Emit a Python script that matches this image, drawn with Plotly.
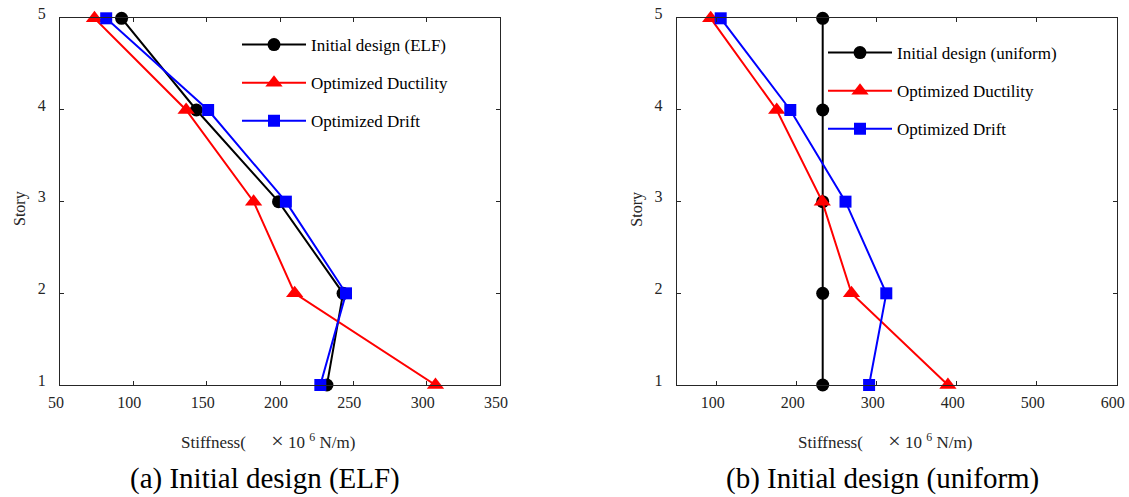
import plotly.graph_objects as go

# ---------------- data ----------------
stories = [1, 2, 3, 4, 5]

# (a) Initial design (ELF)
elf_initial = [232, 243, 199, 143, 92]
elf_ductility = [306, 210, 182, 136, 73.5]
elf_drift = [227.5, 245, 204, 151, 81.5]

# (b) Initial design (uniform)
uni_initial = [232.5, 232.5, 232.5, 232.5, 232.5]
uni_ductility = [389, 268.5, 232, 175, 92.5]
uni_drift = [290.5, 312, 261, 192, 105]

names_a = ["Initial design (ELF)", "Optimized Ductility", "Optimized Drift"]
names_b = ["Initial design (uniform)", "Optimized Ductility", "Optimized Drift"]
ticks_a = [50, 100, 150, 200, 250, 300, 350]
ticks_b = [100, 200, 300, 400, 500, 600]
story_ticks = [1, 2, 3, 4, 5]
captions = ["(a) Initial design (ELF)", "(b) Initial design (uniform)"]

# ---------------- style ----------------
W, H = 1129, 497
FONT = "Liberation Serif"
colors = ["#000000", "#ff0000", "#0000ff"]
symbols = ["circle", "triangle-up", "square"]
msizes = [13, 15, 12]

fig = go.Figure()

def add_series(xvals, name, i, xa, ya, leg, grp):
    fig.add_trace(go.Scatter(
        x=xvals, y=stories, name=name, mode="lines+markers",
        xaxis=xa, yaxis=ya, legend=leg, legendgroup=grp,
        line=dict(color=colors[i], width=2),
        marker=dict(color=colors[i], symbol=symbols[i], size=msizes[i]),
        cliponaxis=False,
    ))

for i, s in enumerate([elf_initial, elf_ductility, elf_drift]):
    add_series(s, names_a[i], i, "x", "y", "legend", f"a{i}")
for i, s in enumerate([uni_initial, uni_ductility, uni_drift]):
    add_series(s, names_b[i], i, "x2", "y2", "legend2", f"b{i}")

AX = "#262626"
common = dict(showline=True, linecolor=AX, linewidth=1, mirror="ticks",
              ticks="inside", ticklen=4, tickcolor=AX, showgrid=False,
              zeroline=False, automargin=False,
              tickfont=dict(family=FONT, size=16, color="#262626"))

ydom = [1 - 385 / H, 1 - 18.3 / H]
xdom_a = [60 / W, 500 / W]
xdom_b = [676.7 / W, 1116.7 / W]

fig.update_layout(
    width=W, height=H,
    margin=dict(l=0, r=0, t=0, b=0, autoexpand=False),
    paper_bgcolor="white", plot_bgcolor="white",
    font=dict(family=FONT, color="black"),
    xaxis=dict(domain=xdom_a, range=[50, 350], tickvals=ticks_a,
               ticklabelstandoff=3, ticklabelshift=-4, anchor="y", **common),
    yaxis=dict(domain=ydom, range=[1, 5], tickvals=story_ticks,
               ticklabelstandoff=10, ticklabelshift=-5, anchor="x", **common),
    xaxis2=dict(domain=xdom_b, range=[50, 600], tickvals=ticks_b,
                ticklabelstandoff=3, ticklabelshift=-4, anchor="y2", **common),
    yaxis2=dict(domain=ydom, range=[1, 5], tickvals=story_ticks,
                ticklabelstandoff=10, ticklabelshift=-5, anchor="x2", **common),
    legend=dict(x=237 / W, y=1 - 27 / H, xanchor="left", yanchor="top",
                bgcolor="rgba(0,0,0,0)", font=dict(family=FONT, size=17),
                tracegroupgap=13, itemwidth=64),
    legend2=dict(x=823 / W, y=1 - 35 / H, xanchor="left", yanchor="top",
                 bgcolor="rgba(0,0,0,0)", font=dict(family=FONT, size=17),
                 tracegroupgap=13, itemwidth=64),
    showlegend=True,
)

nb = "\u00a0"
xtitle = "Stiffness(" + nb * 6 + "<span style='font-size:22px'>×</span> 10 <sup>6</sup> N/m)"

annotations = []
for k, (xd, cap, cx) in enumerate([("x domain", captions[0], 265), ("x2 domain", captions[1], 882)]):
    annotations.append(dict(xref=xd, yref="paper", x=0.5 - 12 / 440, y=1 - 440 / H,
                            text=xtitle, showarrow=False, xanchor="center", yanchor="middle",
                            font=dict(family=FONT, size=17, color="#262626")))
    annotations.append(dict(xref=xd, yref="paper", x=-40 / 440, y=1 - 209 / H,
                            text="Story", textangle=-90, showarrow=False,
                            xanchor="center", yanchor="middle",
                            font=dict(family=FONT, size=16, color="#262626")))
    annotations.append(dict(xref="paper", yref="paper", x=cx / W, y=1 - 478 / H,
                            text=cap, showarrow=False, xanchor="center", yanchor="middle",
                            font=dict(family=FONT, size=29, color="black")))
fig.update_layout(annotations=annotations)

fig.write_html("out.html", config={"displayModeBar": False},
               post_script="document.body.style.margin='0px';")
